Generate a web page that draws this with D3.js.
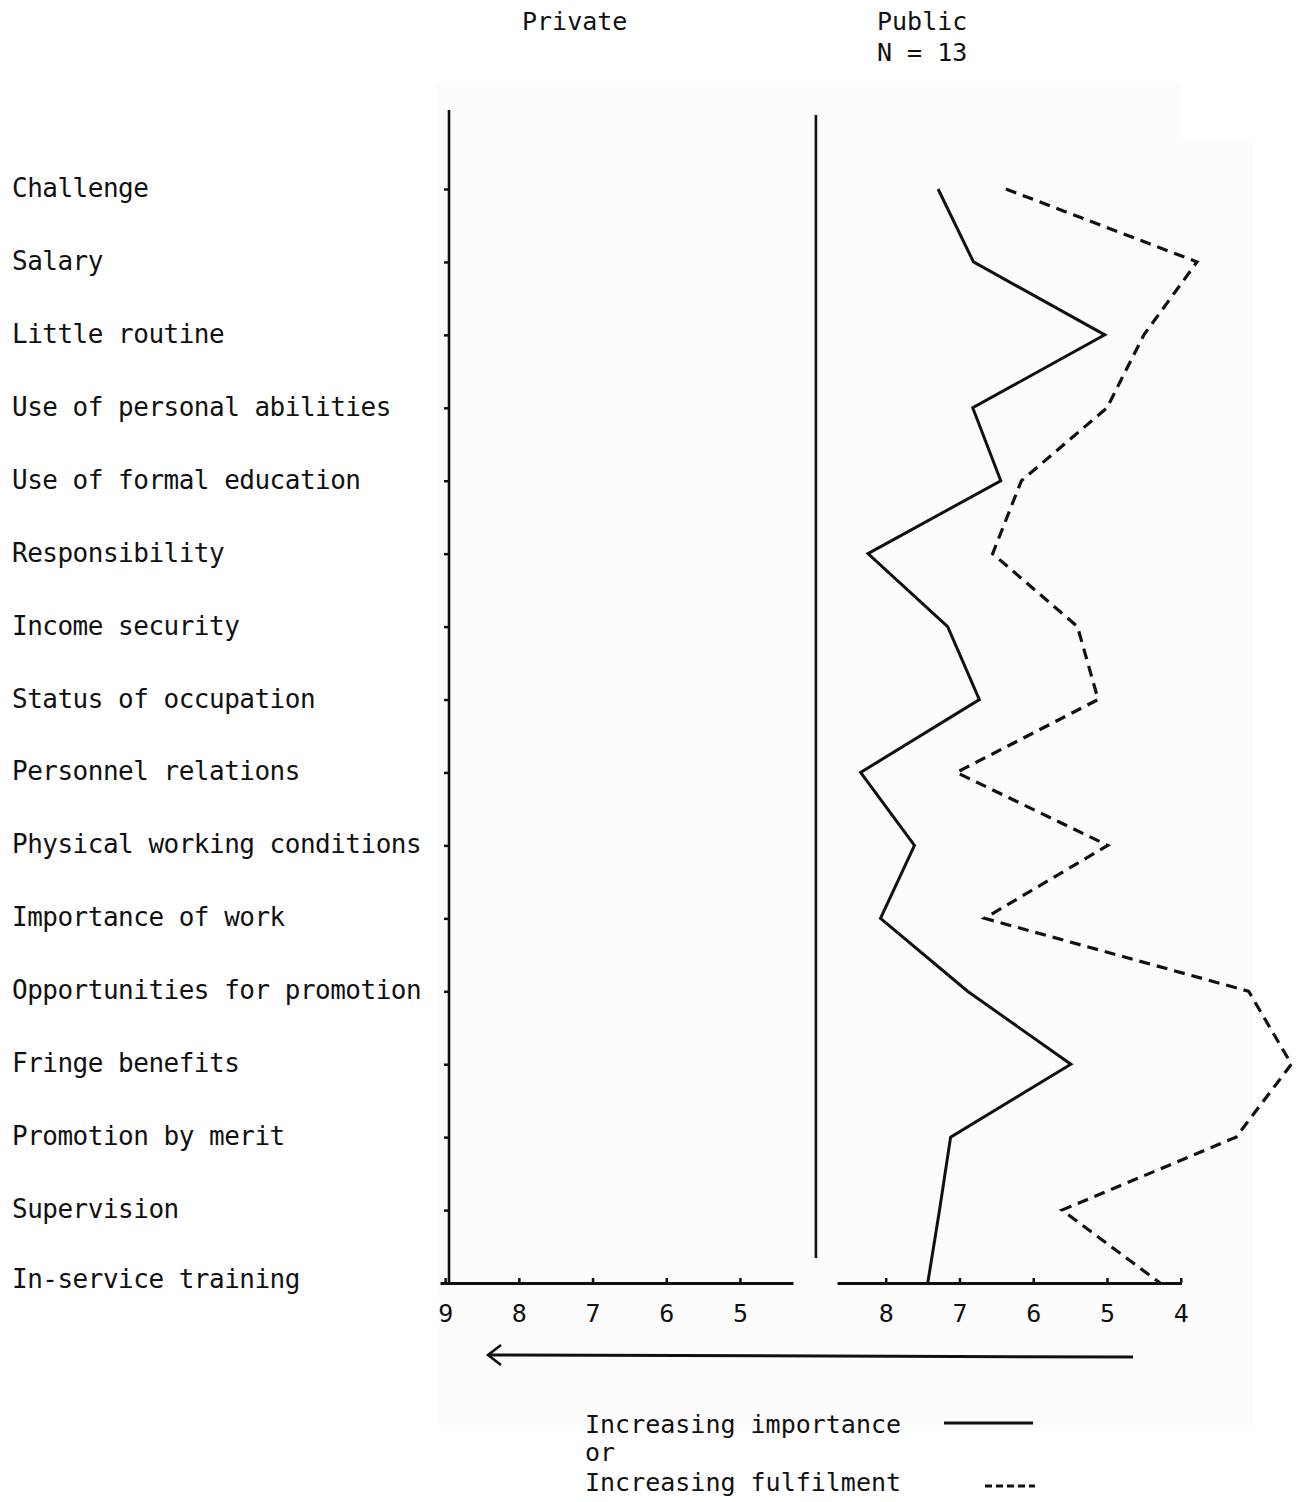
<!DOCTYPE html>
<html>
<head>
<meta charset="utf-8">
<script src="https://cdn.jsdelivr.net/npm/d3@7"></script>
<style>
  html, body { margin: 0; padding: 0; background: #fff; }
  svg { display: block; }
  text { font-family: "DejaVu Sans Mono", "Liberation Mono", monospace; fill: #111; }
</style>
</head>
<body>
<svg id="chart" width="1302" height="1502"></svg>
<script>
// ---- data ----
const categories = [
  "Challenge", "Salary", "Little routine", "Use of personal abilities",
  "Use of formal education", "Responsibility", "Income security",
  "Status of occupation", "Personnel relations", "Physical working conditions",
  "Importance of work", "Opportunities for promotion", "Fringe benefits",
  "Promotion by merit", "Supervision", "In-service training"
];
// Public (N = 13): mean ranking of importance (solid) and fulfilment (dashed)
const importance = [7.29, 6.81, 5.03, 6.82, 6.44, 8.24, 7.16, 6.73, 8.34, 7.61, 8.07, 6.89, 5.49, 7.12, 7.27, 7.43];
const fulfilment = [6.37, 3.78, 4.50, 5.00, 6.16, 6.55, 5.40, 5.12, 7.04, 4.99, 6.66, 3.08, 2.50, 3.25, 5.61, 4.28];
const privateTicks = [9, 8, 7, 6, 5];
const publicTicks = [8, 7, 6, 5, 4];
const panelTitles = ["Private", "Public", "N = 13"];
const legendLabels = ["Increasing importance", "or", "Increasing fulfilment"];

// ---- layout ----
const svg = d3.select("#chart");
const ink = "#111";

// faint scanned-page background
svg.append("rect").attr("x", 437).attr("y", 85).attr("width", 818).attr("height", 1340).attr("fill", "#fcfcfc");
svg.append("rect").attr("x", 1180).attr("y", 85).attr("width", 75).attr("height", 55).attr("fill", "#fff");

const y = d3.scalePoint().domain(categories).range([189, 1283]);
const xPriv = d3.scaleLinear().domain([9.07, 4.28]).range([440, 793]);
const xPub = d3.scaleLinear().domain([8.66, 3.99]).range([837, 1181.5]);
const axisY = y(categories[categories.length - 1]);

// headings
svg.append("text").attr("x", 522).attr("y", 30).attr("font-size", 25).text(panelTitles[0]);
svg.append("text").attr("x", 877).attr("y", 30).attr("font-size", 25).text(panelTitles[1]);
svg.append("text").attr("x", 877).attr("y", 61).attr("font-size", 25).text(panelTitles[2]);

// row labels
svg.append("g").selectAll("text").data(categories).join("text")
  .attr("x", 12)
  .attr("y", (d, i) => y(d) + (i === categories.length - 1 ? 5 : 8))
  .attr("font-size", 26)
  .attr("letter-spacing", -0.5)
  .text(d => d);

// left vertical axis with row ticks
const leftX = 449;
const gLeft = svg.append("g").attr("transform", `translate(${leftX},0)`)
  .call(d3.axisLeft(y).tickSize(5).tickFormat(""));
gLeft.select(".domain").remove();
gLeft.selectAll(".tick line").attr("stroke", ink).attr("stroke-width", 2.5);
svg.append("line").attr("x1", leftX).attr("x2", leftX).attr("y1", 110).attr("y2", axisY)
  .attr("stroke", ink).attr("stroke-width", 2.6);

// right panel vertical line (at value 9 of the public scale)
svg.append("line").attr("x1", xPub(9) + 4).attr("x2", xPub(9) + 4).attr("y1", 115).attr("y2", 1258)
  .attr("stroke", ink).attr("stroke-width", 2.6);

// bottom axes
function bottomAxis(scale, ticks) {
  const g = svg.append("g").attr("transform", `translate(0,${axisY})`)
    .call(d3.axisBottom(scale).tickValues(ticks).tickSize(-5).tickSizeOuter(0).tickPadding(21).tickFormat(d3.format("d")));
  g.select(".domain").attr("stroke", ink).attr("stroke-width", 3.2);
  g.selectAll(".tick line").attr("stroke", ink).attr("stroke-width", 2.5);
  g.selectAll(".tick text").attr("font-size", 25).attr("fill", ink)
    .attr("font-family", "DejaVu Sans Mono, monospace");
  return g;
}
bottomAxis(xPriv, privateTicks);
bottomAxis(xPub, publicTicks);

// public lines
const line = d3.line().x(d => xPub(d.v)).y(d => y(d.c));
svg.append("path")
  .datum(categories.map((c, i) => ({ c, v: importance[i] })))
  .attr("d", line).attr("fill", "none").attr("stroke", ink).attr("stroke-width", 3)
  .attr("stroke-linejoin", "miter");
svg.append("path")
  .datum(categories.map((c, i) => ({ c, v: fulfilment[i] })))
  .attr("d", line).attr("fill", "none").attr("stroke", ink).attr("stroke-width", 3.2)
  .attr("stroke-dasharray", "11,7");

// direction arrow
const ax1 = 488, ax2 = 1133, ay = 1355;
svg.append("line").attr("x1", ax1).attr("x2", ax2).attr("y1", ay).attr("y2", ay + 2)
  .attr("stroke", ink).attr("stroke-width", 3);
svg.append("path").attr("d", `M${ax1 + 13},${ay - 10} L${ax1},${ay} L${ax1 + 13},${ay + 10}`)
  .attr("fill", "none").attr("stroke", ink).attr("stroke-width", 2.6);

// legend
const lgX = 585;
const lgY = [1433, 1461, 1491];
legendLabels.forEach((t, i) => {
  svg.append("text").attr("x", lgX).attr("y", lgY[i]).attr("font-size", 25).attr("letter-spacing", 0).text(t);
});
svg.append("line").attr("x1", 944).attr("x2", 1033).attr("y1", 1423).attr("y2", 1423)
  .attr("stroke", ink).attr("stroke-width", 3);
svg.append("line").attr("x1", 985).attr("x2", 1035).attr("y1", 1486).attr("y2", 1486)
  .attr("stroke", ink).attr("stroke-width", 3).attr("stroke-dasharray", "7,4");
</script>
</body>
</html>
